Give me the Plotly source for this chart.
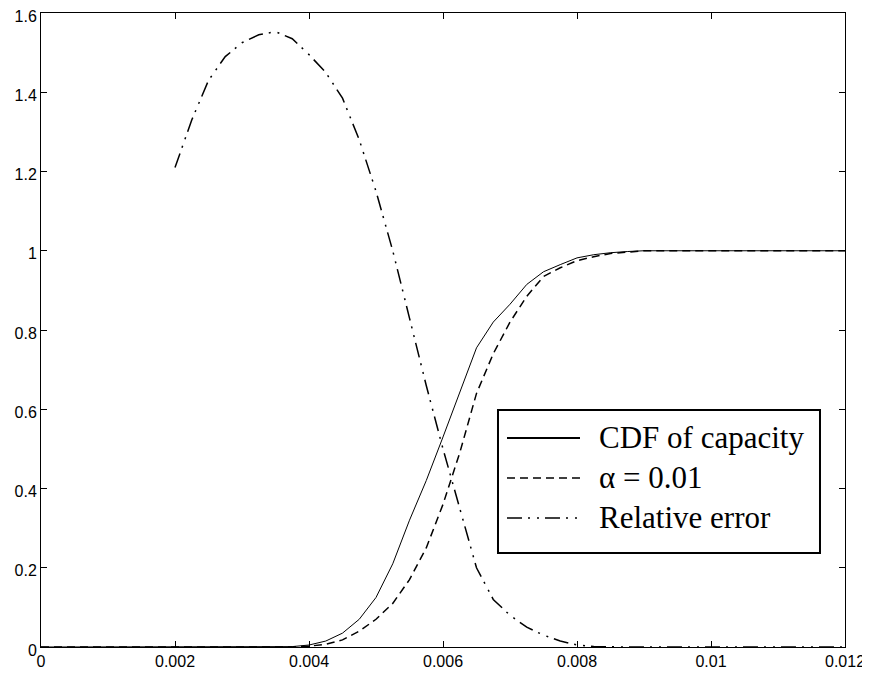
import plotly.graph_objects as go

# capacity grid (step 0.00025)
x = [0.0, 0.00025, 0.0005, 0.00075, 0.001, 0.00125, 0.0015, 0.00175,
     0.002, 0.00225, 0.0025, 0.00275, 0.003, 0.00325, 0.0035, 0.00375,
     0.004, 0.00425, 0.0045, 0.00475, 0.005, 0.00525, 0.0055, 0.00575,
     0.006, 0.00625, 0.0065, 0.00675, 0.007, 0.00725, 0.0075, 0.00775,
     0.008, 0.00825, 0.0085, 0.00875, 0.009, 0.00925, 0.0095, 0.00975,
     0.01, 0.01025, 0.0105, 0.01075, 0.011, 0.01125, 0.0115, 0.01175, 0.012]

cdf_capacity = [0, 0, 0, 0, 0, 0, 0, 0,
                0, 0, 0, 0, 0, 0, 0, 0.001,
                0.005, 0.015, 0.035, 0.07, 0.125, 0.21, 0.32, 0.42,
                0.53, 0.645, 0.755, 0.82, 0.865, 0.915, 0.947, 0.965,
                0.982, 0.99, 0.995, 0.998, 1, 1, 1, 1,
                1, 1, 1, 1, 1, 1, 1, 1, 1]

cdf_alpha = [0, 0, 0, 0, 0, 0, 0, 0,
             0, 0, 0, 0, 0, 0, 0, 0,
             0.002, 0.007, 0.018, 0.04, 0.07, 0.11, 0.17, 0.25,
             0.36, 0.49, 0.64, 0.74, 0.82, 0.885, 0.935, 0.957,
             0.975, 0.985, 0.993, 0.997, 1, 1, 1, 1,
             1, 1, 1, 1, 1, 1, 1, 1, 1]

rel_error = [None, None, None, None, None, None, None, None,
             1.21, 1.33, 1.43, 1.49, 1.525, 1.545, 1.553, 1.535,
             1.495, 1.45, 1.385, 1.28, 1.15, 1.0, 0.83, 0.66,
             0.5, 0.35, 0.2, 0.12, 0.08, 0.05, 0.03, 0.015,
             0.005, 0.001, 0, 0, 0, 0, 0, 0,
             0, 0, 0, 0, 0, 0, 0, 0, 0]

names = ["CDF of capacity", "\u03b1 = 0.01", "Relative error"]

x_ticks = [0, 0.002, 0.004, 0.006, 0.008, 0.01, 0.012]
x_labels = ["0", "0.002", "0.004", "0.006", "0.008", "0.01", "0.012"]
y_ticks = [0, 0.2, 0.4, 0.6, 0.8, 1.0, 1.2, 1.4, 1.6]
y_labels = ["0", "0.2", "0.4", "0.6", "0.8", "1", "1.2", "1.4", "1.6"]

dash_styles = ["solid", "8px,5px", "15px,6px,2px,7px,2px,6px"]
widths = [1, 1.5, 1.5]

fig = go.Figure()
for ys, nm, ds, w in zip([cdf_capacity, cdf_alpha, rel_error], names, dash_styles, widths):
    fig.add_trace(go.Scatter(x=x, y=ys, mode="lines", name=nm,
                             line=dict(color="black", width=w, dash=ds),
                             showlegend=False))

# hand-made legend box, Matlab style
legend_rows = [0.3297, 0.2666, 0.2035]
fig.add_shape(type="rect", xref="paper", yref="paper",
              x0=0.5684, x1=0.9689, y0=0.1483, y1=0.3738,
              line=dict(color="black", width=2), fillcolor="white")
for ry, nm, ds in zip(legend_rows, names, dash_styles):
    fig.add_shape(type="line", xref="paper", yref="paper",
                  x0=0.5796, x1=0.6704, y0=ry, y1=ry,
                  line=dict(color="black", width=2 if ds == "solid" else 1.5, dash=ds))
    fig.add_annotation(xref="paper", yref="paper", x=0.6915, y=ry,
                       xanchor="left", yanchor="middle", showarrow=False,
                       text=nm, font=dict(family="Liberation Serif", size=31, color="black"))

axis_common = dict(showgrid=False, zeroline=False, showline=True, linecolor="black",
                   linewidth=1, mirror="ticks", ticks="inside", ticklen=6,
                   tickcolor="black", tickwidth=1, automargin=False,
                   ticklabeloverflow="allow",
                   tickfont=dict(family="Liberation Sans", size=16, color="black"))

fig.update_xaxes(range=[0, 0.012], tickvals=x_ticks, ticktext=x_labels, **axis_common)
fig.update_yaxes(range=[0, 1.6], tickvals=y_ticks, ticktext=y_labels,
                 ticklabelshift=3, **axis_common)

# page body adds an 8px margin, so the figure is sized to fit what is left
fig.update_layout(width=862, height=668, plot_bgcolor="white", paper_bgcolor="white",
                  margin=dict(l=33, r=25, t=5, b=29))

fig.write_html("out.html")
